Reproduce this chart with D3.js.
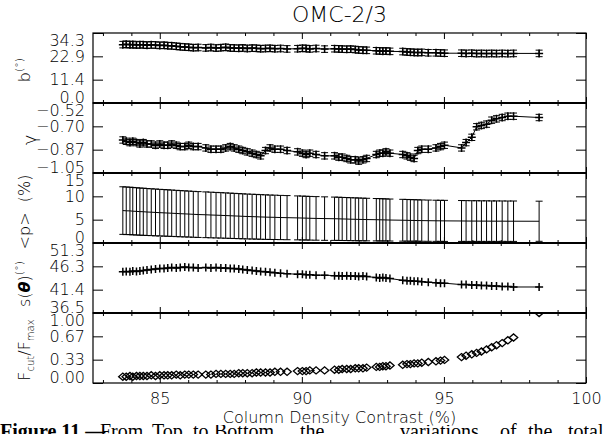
<!DOCTYPE html>
<html>
<head>
<meta charset="utf-8">
<script src="https://cdn.jsdelivr.net/npm/d3@7"></script>
<style>
body { margin: 0; background: #fff; }
svg { display: block; font-family: "DejaVu Sans", sans-serif; }
.lt { font-weight: 200; }
</style>
</head>
<body>
<div id="chart"></div>
<script>
// column density contrast (%) of each cut
var contrast = [
    83.70, 83.82, 83.95, 84.05, 84.18, 84.30, 84.42, 84.55, 84.70, 84.85,
    85.00, 85.15, 85.28, 85.42, 85.58, 85.72, 85.88, 86.02, 86.18, 86.35,
    86.62, 86.80, 86.98, 87.15, 87.32, 87.48, 87.62, 87.78, 87.92, 88.08,
    88.25, 88.40, 88.55, 88.72, 88.88, 89.05, 89.25, 89.48,
    89.85, 90.02, 90.15, 90.28, 90.50, 90.80,
    91.15, 91.30, 91.42, 91.58, 91.72, 91.88, 92.00, 92.15, 92.28,
    92.62, 92.74, 92.85, 92.96, 93.10,
    93.55, 93.70, 93.82, 93.95, 94.08, 94.22, 94.45,
    94.72, 94.88, 95.02,
    95.62, 95.78, 95.98, 96.15, 96.32, 96.50, 96.68, 96.85, 97.05, 97.25, 97.45,
    98.35
];

var bAngle = [
    28.6, 28.8, 28.5, 28.7, 28.4, 28.6, 28.5, 28.3, 28.5, 28.4,
    28.2, 28.3, 28.1, 28.0, 27.8, 27.6, 27.4, 27.3, 27.1, 27.2,
    27.0, 27.2, 26.9, 27.1, 27.3, 27.0, 26.9, 26.8, 27.0, 26.7,
    26.9, 26.8, 26.6, 26.7, 26.8, 26.6, 26.7, 26.5,
    26.6, 26.8, 26.7, 26.5, 26.7, 26.4,
    26.6, 26.5, 26.4, 26.3, 26.4, 26.2, 26.0, 25.9, 25.8,
    25.6, 25.5, 25.4, 25.5, 25.3,
    25.2, 25.0, 24.9, 24.8, 24.7, 24.8, 24.6,
    24.6, 24.5, 24.4,
    24.4, 24.3, 24.4, 24.2, 24.3, 24.2, 24.3, 24.2, 24.3, 24.2, 24.3,
    24.3
];
var bErr = 1.6;

var gamma = [
    -0.80, -0.81, -0.82, -0.81, -0.82, -0.83, -0.82, -0.83, -0.83, -0.84,
    -0.83, -0.84, -0.84, -0.83, -0.84, -0.85, -0.85, -0.84, -0.85, -0.85,
    -0.86, -0.87, -0.87, -0.87, -0.86, -0.85, -0.86, -0.87, -0.88, -0.89,
    -0.90, -0.91, -0.92, -0.88, -0.86, -0.87, -0.87, -0.88,
    -0.89, -0.90, -0.91, -0.90, -0.91, -0.92,
    -0.92, -0.93, -0.93, -0.94, -0.95, -0.95, -0.96, -0.95, -0.94,
    -0.91, -0.90, -0.90, -0.89, -0.90,
    -0.91, -0.92, -0.93, -0.94, -0.88, -0.87, -0.87,
    -0.86, -0.85, -0.84,
    -0.86, -0.82, -0.78, -0.70, -0.69, -0.68, -0.65, -0.64, -0.63, -0.62, -0.62,
    -0.63
];
var gErr = 0.024;

var pMean = [
    6.95, 6.90, 6.88, 6.82, 6.78, 6.72, 6.70, 6.64, 6.60, 6.55,
    6.50, 6.46, 6.42, 6.38, 6.33, 6.28, 6.24, 6.20, 6.15, 6.10,
    6.05, 6.00, 5.96, 5.92, 5.88, 5.84, 5.80, 5.76, 5.72, 5.68,
    5.65, 5.62, 5.58, 5.55, 5.52, 5.50, 5.46, 5.43,
    5.38, 5.35, 5.33, 5.30, 5.27, 5.23,
    5.20, 5.18, 5.15, 5.13, 5.10, 5.08, 5.06, 5.04, 5.02,
    4.99, 4.97, 4.96, 4.94, 4.92,
    4.88, 4.86, 4.84, 4.83, 4.81, 4.80, 4.78,
    4.76, 4.75, 4.74,
    4.72, 4.71, 4.70, 4.70, 4.69, 4.69, 4.68, 4.68, 4.68, 4.67, 4.67,
    4.66
];

var pErr = [
    5.10, 5.10, 5.08, 5.08, 5.06, 5.05, 5.05, 5.03, 5.02, 5.02,
    5.00, 4.99, 4.98, 4.97, 4.96, 4.95, 4.94, 4.93, 4.92, 4.91,
    4.90, 4.89, 4.88, 4.87, 4.86, 4.85, 4.84, 4.83, 4.82, 4.81,
    4.80, 4.79, 4.78, 4.77, 4.76, 4.75, 4.74, 4.73,
    4.71, 4.70, 4.69, 4.68, 4.67, 4.66,
    4.64, 4.63, 4.62, 4.61, 4.60, 4.59, 4.58, 4.57, 4.56,
    4.54, 4.53, 4.52, 4.51, 4.50,
    4.48, 4.47, 4.46, 4.45, 4.44, 4.43, 4.42,
    4.41, 4.40, 4.40,
    4.38, 4.37, 4.36, 4.36, 4.35, 4.35, 4.34, 4.34, 4.33, 4.33, 4.33,
    4.30
];

var sTheta = [
    45.2, 45.3, 45.2, 45.4, 45.3, 45.4, 45.5, 45.6, 45.7, 45.8,
    45.9, 45.9, 46.0, 46.1, 46.0, 46.1, 46.2, 46.1, 46.1, 46.0,
    46.1, 46.0, 46.1, 46.0, 46.0, 45.9, 45.9, 45.8, 45.7, 45.6,
    45.5, 45.4, 45.3, 45.2, 45.1, 45.0, 44.9, 44.8,
    44.7, 44.7, 44.6, 44.6, 44.5, 44.5,
    44.4, 44.4, 44.3, 44.4, 44.3, 44.3, 44.2, 44.3, 44.2,
    44.0, 43.9, 44.0, 43.9, 43.8,
    43.4, 43.3, 43.3, 43.2, 43.2, 43.1, 43.0,
    42.9, 42.8, 42.8,
    42.5, 42.5, 42.4, 42.4, 42.3, 42.3, 42.2, 42.2, 42.1, 42.1, 42.0,
    42.0
];

var fRatio = [
    0.09, 0.09, 0.10, 0.09, 0.10, 0.10, 0.10, 0.10, 0.11, 0.10,
    0.11, 0.11, 0.11, 0.11, 0.12, 0.11, 0.12, 0.12, 0.12, 0.12,
    0.12, 0.12, 0.13, 0.13, 0.13, 0.13, 0.13, 0.14, 0.14, 0.14,
    0.14, 0.15, 0.15, 0.15, 0.15, 0.16, 0.16, 0.16,
    0.17, 0.17, 0.17, 0.18, 0.18, 0.18,
    0.19, 0.19, 0.20, 0.20, 0.20, 0.21, 0.21, 0.21, 0.22,
    0.23, 0.23, 0.24, 0.24, 0.25,
    0.26, 0.27, 0.27, 0.28, 0.28, 0.29, 0.30,
    0.31, 0.32, 0.33,
    0.37, 0.39, 0.41, 0.43, 0.45, 0.48, 0.51, 0.54, 0.57, 0.61, 0.65,
    1.00
];

// tick labels, bottom to top, evenly spaced over each panel
var bTicks = ['0.0', '11.4', '22.9', '34.3'];
var gTicks = ['\u22121.05', '\u22120.87', '\u22120.70', '\u22120.52'];
var pTicks = ['0', '5', '10', '15'];
var sTicks = ['36.5', '41.4', '46.3', '51.3'];
var fTicks = ['0.00', '0.33', '0.67', '1.00'];
var xTicks = [85, 90, 95, 100];
var xMinor = [83, 84, 86, 87, 88, 89, 91, 92, 93, 94, 96, 97, 98, 99];

var W = 609, H = 434;
var plotL = 93, plotR = 586, plotT = 33, ph = 70;

var svg = d3.select('#chart').append('svg')
    .attr('width', W)
    .attr('height', H);

var x = d3.scaleLinear().domain([82.65, 100]).range([plotL, plotR]);

var panels = [
    {vals: bAngle, err: bErr, domain: [0, 34.3], ticks: bTicks, mark: 'plus', line: true},
    {vals: gamma, err: gErr, domain: [-1.05, -0.52], ticks: gTicks, mark: 'plus', line: true},
    {vals: pMean, err: pErr, domain: [0, 15], ticks: pTicks, mark: 'none', line: true},
    {vals: sTheta, err: null, domain: [36.5, 51.3], ticks: sTicks, mark: 'plus', line: true},
    {vals: fRatio, err: null, domain: [0, 1], ticks: fTicks, mark: 'diamond', line: false}
];

function errAt(p, i) {
    if (p.err === null) return null;
    return Array.isArray(p.err) ? p.err[i] : p.err;
}

panels.forEach(function (p, k) {
    var y0 = plotT + k * ph;
    var y = d3.scaleLinear().domain(p.domain).range([y0 + ph, y0]);
    var tv = p.ticks.map(function (t, i) {
        return p.domain[0] + (p.domain[1] - p.domain[0]) * i / 3;
    });
    var g = svg.append('g');

    svg.append('clipPath').attr('id', 'clip' + k)
        .append('rect').attr('x', plotL).attr('y', y0).attr('width', plotR - plotL).attr('height', ph);
    var plot = g.append('g').attr('clip-path', 'url(#clip' + k + ')');

    var pts = contrast.map(function (c, i) { return [x(c), y(p.vals[i]), i]; });

    if (p.line) {
        plot.append('path')
            .attr('d', d3.line()(pts.map(function (d) { return [d[0], d[1]]; })))
            .attr('fill', 'none').attr('stroke', '#000').attr('stroke-width', 1);
    }

    if (p.err !== null) {
        var capW = 3.5;
        plot.selectAll('path.err').data(pts).enter().append('path')
            .attr('d', function (d) {
                var e = errAt(p, d[2]);
                var hi = y(p.vals[d[2]] + e), lo = y(p.vals[d[2]] - e);
                return 'M' + (d[0] - capW) + ',' + hi + 'H' + (d[0] + capW) +
                    'M' + d[0] + ',' + hi + 'V' + lo +
                    'M' + (d[0] - capW) + ',' + lo + 'H' + (d[0] + capW);
            })
            .attr('fill', 'none').attr('stroke', '#000').attr('stroke-width', 1);
    }

    if (p.mark === 'plus') {
        plot.selectAll('path.mk').data(pts).enter().append('path')
            .attr('d', function (d) {
                return 'M' + (d[0] - 4) + ',' + d[1] + 'H' + (d[0] + 4) +
                    'M' + d[0] + ',' + (d[1] - 4) + 'V' + (d[1] + 4);
            })
            .attr('fill', 'none').attr('stroke', '#000').attr('stroke-width', 1.5);
    } else if (p.mark === 'diamond') {
        plot.selectAll('path.mk').data(pts).enter().append('path')
            .attr('d', function (d) {
                return 'M' + (d[0] - 4.2) + ',' + d[1] + 'L' + d[0] + ',' + (d[1] - 3.6) +
                    'L' + (d[0] + 4.2) + ',' + d[1] + 'L' + d[0] + ',' + (d[1] + 3.6) + 'Z';
            })
            .attr('fill', 'none').attr('stroke', '#000').attr('stroke-width', 1.3);
    }

    // y axes, ticks pointing inward on both sides
    var ay = g.append('g').attr('transform', 'translate(' + plotL + ',0)')
        .call(d3.axisLeft(y).tickValues(tv)
            .tickFormat(function (d, i) { return p.ticks[i]; })
            .tickSizeInner(-10).tickSizeOuter(0).tickPadding(8));
    ay.select('.domain').remove();
    ay.selectAll('text').attr('font-size', 16).attr('font-family', '"DejaVu Sans", sans-serif')
        .attr('class', 'lt').attr('fill', '#000')
        .attr('y', function (d, i) { return i === 0 ? -6 : (i === 3 ? 7 : 0); });
    var ar = g.append('g').attr('transform', 'translate(' + plotR + ',0)')
        .call(d3.axisRight(y).tickValues(tv).tickFormat('').tickSizeInner(-10).tickSizeOuter(0));
    ar.select('.domain').remove();

    // x ticks on top and bottom of every panel
    [[y0 + ph, 1], [y0, -1]].forEach(function (e) {
        var dir = e[1];
        var mk = dir > 0 ? d3.axisBottom : d3.axisTop;
        var maj = g.append('g').attr('transform', 'translate(0,' + e[0] + ')')
            .call(mk(x).tickValues(xTicks).tickSizeInner(-6).tickSizeOuter(0).tickPadding(10)
                .tickFormat(dir > 0 && k === panels.length - 1 ? d3.format('d') : ''));
        maj.select('.domain').remove();
        maj.selectAll('text').attr('font-size', 16).attr('fill', '#000').attr('class', 'lt')
            .attr('font-family', '"DejaVu Sans", sans-serif');
        var mn = g.append('g').attr('transform', 'translate(0,' + e[0] + ')')
            .call(mk(x).tickValues(xMinor).tickSizeInner(-3).tickSizeOuter(0).tickFormat(''));
        mn.select('.domain').remove();
    });

    g.append('rect')
        .attr('x', plotL).attr('y', y0).attr('width', plotR - plotL).attr('height', ph)
        .attr('fill', 'none').attr('stroke', '#000').attr('stroke-width', 1.2);
});

// heavier lines between stacked panels
for (var j = 1; j < panels.length; j++) {
    svg.append('line')
        .attr('x1', plotL).attr('x2', plotR)
        .attr('y1', plotT + j * ph).attr('y2', plotT + j * ph)
        .attr('stroke', '#000').attr('stroke-width', 2.2);
}

svg.append('text')
    .attr('class', 'lt')
    .attr('x', (plotL + plotR) / 2).attr('y', 22)
    .attr('text-anchor', 'middle').attr('font-size', 22)
    .text('OMC-2/3');

function yTitle(cx, cy, build) {
    var t = svg.append('text')
        .attr('class', 'lt')
        .attr('transform', 'translate(' + cx + ',' + cy + ') rotate(-90)')
        .attr('text-anchor', 'middle').attr('font-size', 16);
    build(t);
}

yTitle(30, 70, function (t) {
    t.append('tspan').text('b');
    t.append('tspan').attr('font-size', 11).attr('dy', -7).text('(\u00b0)');
});
yTitle(36, 140, function (t) {
    t.attr('font-size', 18).text('\u03b3');
});
yTitle(30, 212, function (t) {
    t.attr('xml:space', 'preserve').text('<p>  (%)');
});
yTitle(30, 284, function (t) {
    t.append('tspan').text('s(');
    t.append('tspan').attr('font-weight', 'bold').attr('font-style', 'italic').text('\u03b8');
    t.append('tspan').text(')');
    t.append('tspan').attr('font-size', 11).attr('dy', -7).text('(\u00b0)');
});
yTitle(30, 350, function (t) {
    t.append('tspan').text('F');
    t.append('tspan').attr('font-size', 10).attr('dy', 4).text('cut');
    t.append('tspan').attr('dy', -4).text('/F');
    t.append('tspan').attr('font-size', 10).attr('dy', 4).text('max');
});

// caption of the paper page, cut by the bottom edge
var caption = svg.append('g').attr('font-family', '"Liberation Serif", serif').attr('font-size', 20);
caption.append('text').attr('x', 0).attr('y', 438).attr('font-weight', 'bold').text('Figure 11.\u2014');
[['From', 100], ['Top', 152], ['to', 193], ['Bottom', 214], ['the', 300], ['variations', 400],
 ['of', 500], ['the', 528], ['total', 568]].forEach(function (w) {
    caption.append('text').attr('x', w[1]).attr('y', 438).text(w[0]);
});

svg.append('rect').attr('x', 200).attr('y', 409).attr('width', 280).attr('height', 16).attr('fill', '#fff');
svg.append('text')
    .attr('class', 'lt')
    .attr('x', (plotL + plotR) / 2).attr('y', 423)
    .attr('text-anchor', 'middle').attr('font-size', 16)
    .text('Column Density Contrast (%)');
</script>
</body>
</html>
